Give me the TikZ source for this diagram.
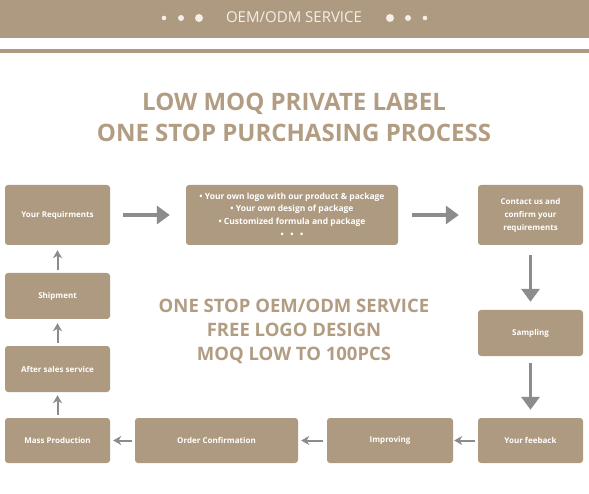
\documentclass[tikz,border=0pt]{standalone}
\usepackage{fontspec}
\setmainfont{Open Sans}
\usetikzlibrary{arrows.meta}

\definecolor{boxtan}{HTML}{AE9A80}
\definecolor{titletan}{HTML}{B29D83}
\definecolor{arrowgray}{HTML}{8C8C8C}
\definecolor{headtext}{HTML}{F4EFE8}

\begin{document}
\begin{tikzpicture}[
    x=1pt, y=-1pt,
    stepbox/.style={rectangle, rounded corners=3pt, fill=boxtan, text=white, font=\fontsize{8}{10}\selectfont\bfseries, align=center, inner sep=0pt, minimum width=105pt},
    bigarrow/.style={draw=arrowgray, line width=3.5pt, -{Triangle[length=13pt,width=18pt]}},
    smallarrow/.style={draw=arrowgray, line width=2pt, -{Stealth[length=8pt,width=9pt,inset=2.5pt]}},
    dot/.style={fill=headtext}
]
\useasboundingbox (0,0) rectangle (589,494);
\fill[white] (0,0) rectangle (589,494);

% Header
\fill[boxtan] (0,0) rectangle (589,38);
\fill[boxtan] (0,49) rectangle (589,53);
\node[text=headtext, font=\fontsize{15}{16}\selectfont] (header) at (294,17.5) {OEM/ODM SERVICE};
\fill[dot] (164,18) circle (2.3);
\fill[dot] (181,18) circle (3);
\fill[dot] (199,18) circle (4);
\fill[dot] (390,18) circle (4);
\fill[dot] (408,18) circle (3);
\fill[dot] (425,18) circle (2.3);

% Title
\node[text=titletan, font=\fontsize{24}{31}\selectfont\bfseries, align=center] (title) at (294,117)
    {LOW MOQ PRIVATE LABEL\\ONE STOP PURCHASING PROCESS};

% Centre text
\node[text=titletan, font=\fontsize{18.5}{24}\selectfont\bfseries, align=center] (service) at (294,331.5)
    {ONE STOP OEM/ODM SERVICE\\FREE LOGO DESIGN\\MOQ LOW TO 100PCS};

% Top row
\node[stepbox, minimum height=60pt] (req) at (57.5,215) {Your Requirments};
\node[stepbox, minimum width=212pt, minimum height=60pt, font=\fontsize{8.5}{12.7}\selectfont\bfseries] (opts) at (292,215)
    {• Your own logo with our product \& package\\• Your own design of package\\• Customized formula and package\\• \ \ • \ \ •};
\node[stepbox, minimum height=60pt, font=\fontsize{8}{13}\selectfont\bfseries] (contact) at (530.5,215) {Contact us and\\confirm your\\requirements};

% Right column
\node[stepbox, minimum height=46pt] (sampling) at (530.5,333) {Sampling};

% Bottom row
\node[stepbox, minimum height=45pt] (feedback) at (530.5,440.5) {Your feeback};
\node[stepbox, minimum width=126pt, minimum height=45pt] (improving) at (390,440.5) {Improving};
\node[stepbox, minimum width=163pt, minimum height=45pt] (order) at (216.5,440.5) {Order Confirmation};
\node[stepbox, minimum height=45pt] (mass) at (57.5,440.5) {Mass Production};

% Left column
\node[stepbox, minimum height=46pt] (after) at (57.5,369) {After sales service};
\node[stepbox, minimum height=46pt] (ship) at (57.5,296) {Shipment};

% Connections
\draw[bigarrow, shorten <=13pt, shorten >=16pt] (req.east) -- (opts.west);
\draw[bigarrow, shorten <=14pt, shorten >=19pt] (opts.east) -- (contact.west);
\draw[bigarrow, shorten <=10pt, shorten >=8pt] (contact.south) -- (sampling.north);
\draw[bigarrow, shorten <=7pt, shorten >=8pt] (sampling.south) -- (feedback.north);
\draw[smallarrow, shorten <=3pt, shorten >=1pt] (feedback.west) -- (improving.east);
\draw[smallarrow, shorten <=4pt, shorten >=3pt] (improving.west) -- (order.east);
\draw[smallarrow, shorten <=3pt, shorten >=3pt] (order.west) -- (mass.east);
\draw[smallarrow, shorten <=3pt, shorten >=3pt] (mass.north) -- (after.south);
\draw[smallarrow, shorten <=3pt, shorten >=4pt] (after.north) -- (ship.south);
\draw[smallarrow, shorten <=3pt, shorten >=5pt] (ship.north) -- (req.south);

\end{tikzpicture}
\end{document}
